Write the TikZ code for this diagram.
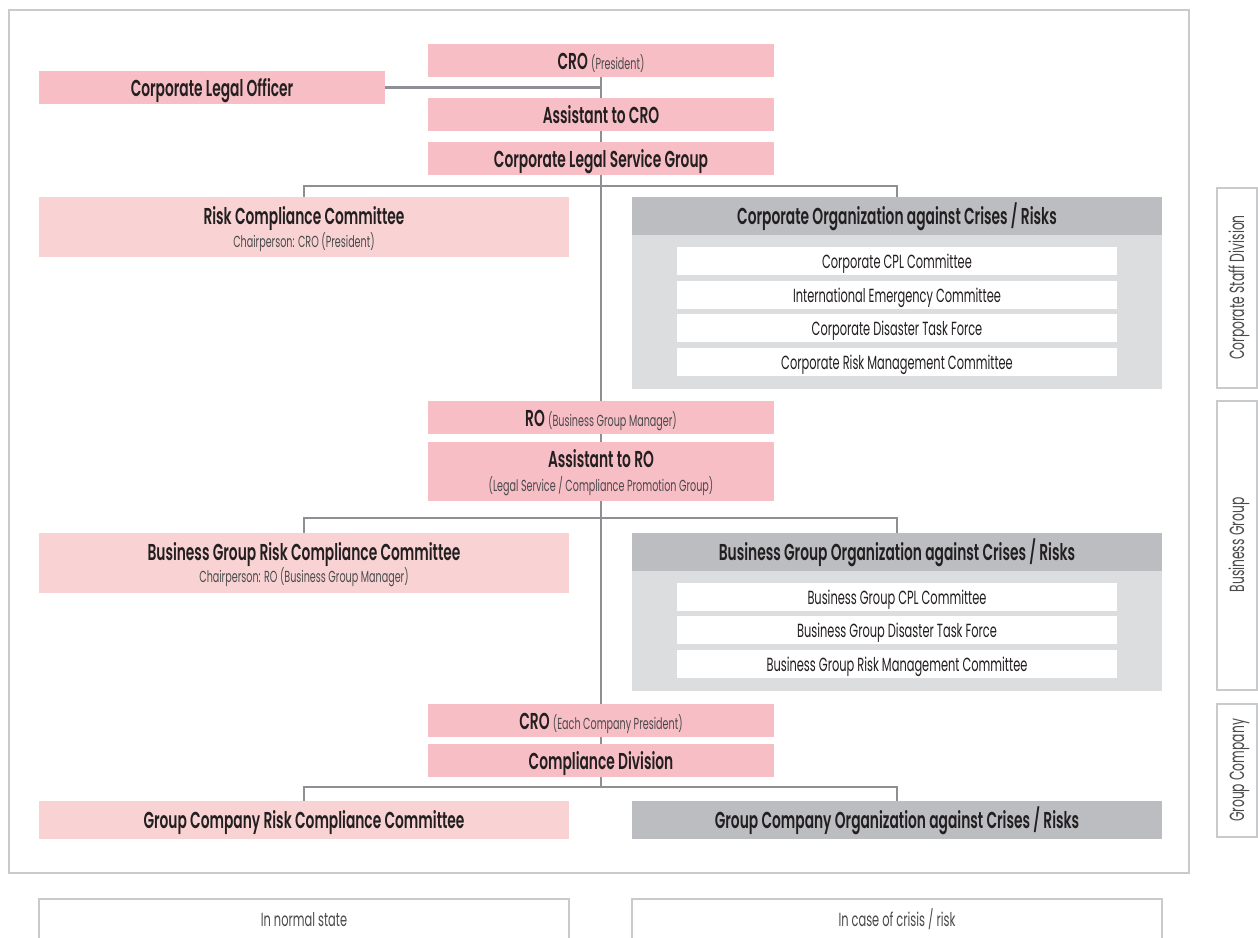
\documentclass[tikz,border=0pt]{standalone}
\usepackage{fontspec}
\setmainfont{Poppins}[FakeStretch=0.6, BoldFont={Poppins SemiBold}, BoldFeatures={FakeStretch=0.6}]
\usetikzlibrary{backgrounds}

\definecolor{rosepink}{HTML}{F7BEC5}
\definecolor{palepink}{HTML}{F9D3D3}
\definecolor{headgray}{HTML}{BCBDC0}
\definecolor{bodygray}{HTML}{DCDDDF}
\definecolor{linegray}{HTML}{8E8F92}
\definecolor{framegray}{HTML}{C9CACC}
\definecolor{ink}{HTML}{231F20}
\definecolor{softink}{HTML}{4A4A4C}

\newcommand{\titlesize}{\fontsize{23}{26}\selectfont}
\newcommand{\notesize}{\fontsize{16}{18}\selectfont}
\newcommand{\itemsize}{\fontsize{19}{21}\selectfont}
\newcommand{\sidesize}{\fontsize{20.5}{22}\selectfont}
\newcommand{\subline}[1]{{\notesize\mdseries\color{softink}#1}}
\newcommand{\topstrut}{\rule{0pt}{21.5pt}}

\tikzset{
  box/.style={anchor=north west, inner sep=0pt, outer sep=0pt, text=ink},
  oneline/.style={text height=17pt, text depth=0pt},
  twoline/.style={align=center},
  rolebox/.style={box, fill=rosepink, minimum width=346pt, minimum height=33pt, font=\titlesize\bfseries},
  commbox/.style={box, fill=palepink, minimum width=530pt, minimum height=60pt, font=\titlesize\bfseries},
  headbox/.style={box, oneline, fill=headgray, minimum width=530pt, minimum height=38pt, font=\titlesize\bfseries},
  panel/.style={box, fill=bodygray, minimum width=530pt},
  itembox/.style={box, fill=white, minimum width=440pt, minimum height=28pt, font=\itemsize,
                  text height=14pt, text depth=0pt},
  sidebox/.style={draw=framegray, line width=2pt, fill=white, inner sep=0pt, rotate=90,
                  minimum height=40pt, text=softink, font=\sidesize, text height=15pt, text depth=0pt},
  legendbox/.style={box, draw=framegray, line width=2pt, fill=white, minimum width=530pt,
                  minimum height=40pt, text=softink, font=\itemsize, text height=14pt, text depth=0pt},
  link/.style={draw=linegray, line width=2.6pt}
}

\begin{document}
\begin{tikzpicture}[x=1pt, y=-1pt]
  \clip (0,0) rectangle (1258,937);
  \begin{scope}[on background layer]
    \fill[white] (0,0) rectangle (1258,937);
  \end{scope}

  % outer frame
  \draw[draw=framegray, line width=2.5pt] (9,10) rectangle (1189,873);

  % corporate level
  \node[rolebox, oneline] (cro) at (428,44) {CRO \subline{(President)}};
  \node[rolebox, oneline] (clo) at (39,71) {Corporate Legal Officer};
  \node[rolebox, oneline] (acro) at (428,98) {Assistant to CRO};
  \node[rolebox, oneline] (clsg) at (428,142) {Corporate Legal Service Group};

  \node[commbox, twoline] (rcc) at (39,197) {\topstrut Risk Compliance Committee\\[-3pt]
    \subline{Chairperson: CRO (President)}};

  \node[panel, minimum height=192pt] (coc) at (632,197) {};
  \node[headbox] (coch) at (632,197) {Corporate Organization against Crises / Risks};
  \node[itembox] (ci1) at (677,247) {Corporate CPL Committee};
  \node[itembox] (ci2) at (677,281) {International Emergency Committee};
  \node[itembox] (ci3) at (677,314) {Corporate Disaster Task Force};
  \node[itembox] (ci4) at (677,348) {Corporate Risk Management Committee};

  % business group level
  \node[rolebox, oneline] (ro) at (428,401) {RO \subline{(Business Group Manager)}};
  \node[rolebox, twoline, minimum height=59pt] (aro) at (428,442) {\rule{0pt}{19.5pt}Assistant to RO\\[-2pt]
    \subline{(Legal Service / Compliance Promotion Group)}};

  \node[commbox, twoline] (bgrcc) at (39,533) {\topstrut Business Group Risk Compliance Committee\\[-4pt]
    \subline{Chairperson: RO (Business Group Manager)}};

  \node[panel, minimum height=158pt] (bgoc) at (632,533) {};
  \node[headbox] (bgoch) at (632,533) {Business Group Organization against Crises / Risks};
  \node[itembox] (bi1) at (677,583) {Business Group CPL Committee};
  \node[itembox] (bi2) at (677,616) {Business Group Disaster Task Force};
  \node[itembox] (bi3) at (677,650) {Business Group Risk Management Committee};

  % group company level
  \node[rolebox, oneline] (cro2) at (428,704) {CRO \subline{(Each Company President)}};
  \node[rolebox, oneline] (cd) at (428,744) {Compliance Division};
  \node[commbox, oneline, minimum height=38pt] (gcrc) at (39,801) {Group Company Risk Compliance Committee};
  \node[headbox] (gcoc) at (632,801) {Group Company Organization against Crises / Risks};

  % side labels
  \node[sidebox, minimum width=200pt] (sCorp) at (1236.5,287.5) {Corporate Staff Division};
  \node[sidebox, minimum width=289pt] (sBG) at (1236.5,545) {Business Group};
  \node[sidebox, minimum width=133pt] (sGC) at (1236.5,770.5) {Group Company};

  % legend
  \node[legendbox] (lnorm) at (39,899) {In normal state};
  \node[legendbox] (lcris) at (632,899) {In case of crisis / risk};

  % connectors
  \begin{scope}[on background layer]
    \coordinate (b3) at ([yshift=14pt]gcrc.north -| cd.south);
    \draw[link] (clo.east) -- (clo.east -| cro.south);
    \draw[link] (cro.south) -- (acro.north);
    \draw[link] (acro.south) -- (clsg.north);
    \draw[link] (clsg.south) -- (ro.north);
    \draw[link] (ro.south) -- (aro.north);
    \draw[link] (aro.south) -- (cro2.north);
    \draw[link] (cro2.south) -- (cd.north);
    \draw[link] (cd.south) -- (b3);
    \draw[link] (rcc.north) -- ++(0,-11) -| (coch.north);
    \draw[link] (bgrcc.north) -- ++(0,-15) -| (bgoch.north);
    \draw[link] (gcrc.north) -- ++(0,-14) -| (gcoc.north);
  \end{scope}
\end{tikzpicture}
\end{document}
